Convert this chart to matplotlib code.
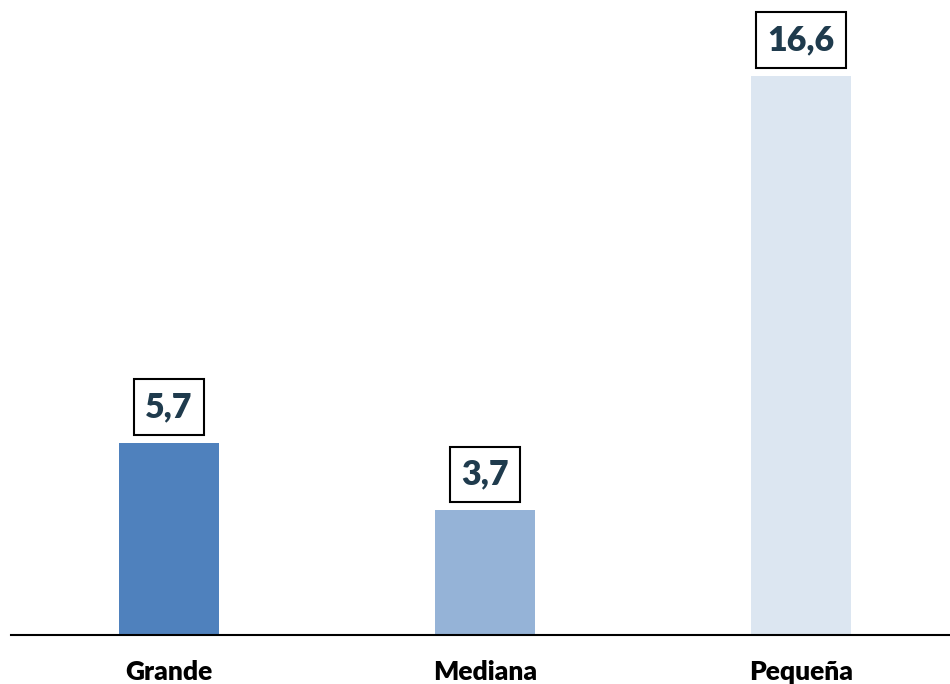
import matplotlib.pyplot as plt

# datos
categorias = ['Grande', 'Mediana', 'Pequeña']
valores = [5.7, 3.7, 16.6]
colores = ['#4F81BD', '#95B3D7', '#DCE6F1']

plt.rcParams['font.family'] = ['Lato', 'DejaVu Sans']

fig = plt.figure(figsize=(9.5, 6.84), dpi=100)
# axes: left 11px, right 950px, bottom at y=635px (from top), top at 0
ax = fig.add_axes([11 / 950, (684 - 635) / 684, 939 / 950, 635 / 684])

x = range(len(categorias))
barras = ax.bar(x, valores, width=0.316, color=colores)

ax.set_xlim(-0.5, 2.4715)
ax.set_ylim(0, 18.86)

for b, v in zip(barras, valores):
    ax.annotate(f'{v:.1f}'.replace('.', ','),
                xy=(b.get_x() + b.get_width() / 2, v),
                xytext=(0, 14.5), textcoords='offset points',
                ha='center', va='bottom', fontsize=24.5, fontweight='heavy',
                color='#1F3B4D',
                bbox=dict(boxstyle='square,pad=0.34', fc='white', ec='black', lw=1.5))

ax.set_xticks(list(x))
ax.set_xticklabels(categorias, fontsize=19, fontweight='heavy', color='black')
ax.tick_params(axis='x', length=0, pad=18)
ax.set_yticks([])
for s in ['top', 'right', 'left']:
    ax.spines[s].set_visible(False)
ax.spines['bottom'].set_linewidth(1.5)

fig.savefig('out.png', dpi=100)
